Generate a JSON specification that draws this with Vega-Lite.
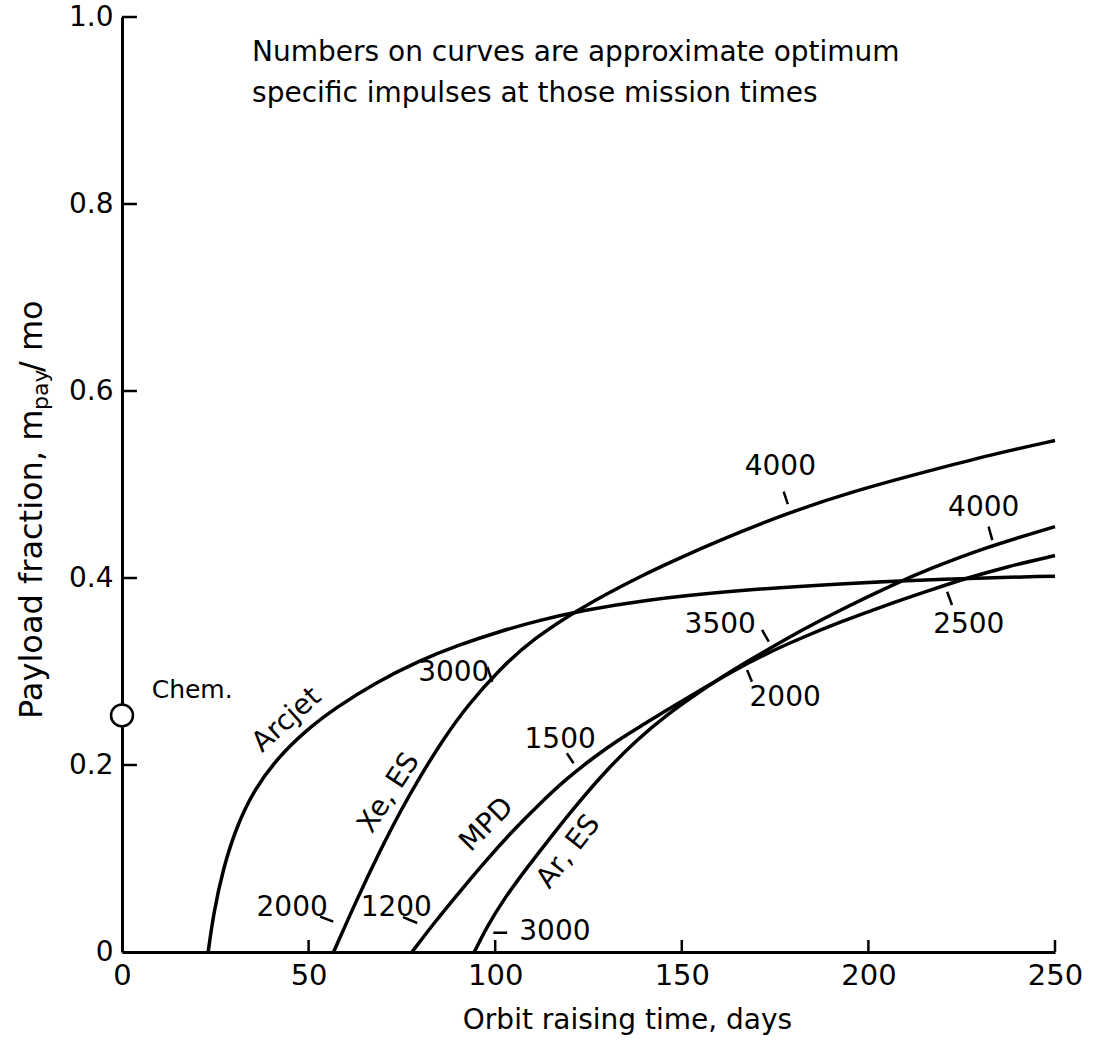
{
  "$schema": "https://vega.github.io/schema/vega-lite/v6.json",
  "width": 933,
  "height": 935,
  "autosize": {"type": "none"},
  "padding": {"left": 122, "top": 17, "right": 39, "bottom": 101},
  "background": "white",
  "config": {
    "font": "DejaVu Sans",
    "view": {"stroke": null},
    "axis": {"grid": false, "domainColor": "black", "domainWidth": 3, "ticks": false, "labelColor": "black", "labelFont": "DejaVu Sans", "titleColor": "black", "titleFont": "DejaVu Sans", "titleFontWeight": "normal", "labelFlush": false}
  },
  "datasets": {
    "curves": [
      {"series": "Arcjet", "t": 23.1, "f": 0},
      {"series": "Arcjet", "t": 24.5, "f": 0.041},
      {"series": "Arcjet", "t": 27.2, "f": 0.091},
      {"series": "Arcjet", "t": 30.7, "f": 0.134},
      {"series": "Arcjet", "t": 35.2, "f": 0.172},
      {"series": "Arcjet", "t": 41.5, "f": 0.207},
      {"series": "Arcjet", "t": 49.5, "f": 0.238},
      {"series": "Arcjet", "t": 57.6, "f": 0.262},
      {"series": "Arcjet", "t": 67.4, "f": 0.287},
      {"series": "Arcjet", "t": 79.9, "f": 0.312},
      {"series": "Arcjet", "t": 90, "f": 0.328},
      {"series": "Arcjet", "t": 101.3, "f": 0.343},
      {"series": "Arcjet", "t": 112, "f": 0.355},
      {"series": "Arcjet", "t": 123.2, "f": 0.365},
      {"series": "Arcjet", "t": 138.9, "f": 0.376},
      {"series": "Arcjet", "t": 165, "f": 0.387},
      {"series": "Arcjet", "t": 192.5, "f": 0.394},
      {"series": "Arcjet", "t": 220, "f": 0.399},
      {"series": "Arcjet", "t": 250, "f": 0.402},
      {"series": "Xe, ES", "t": 56.7, "f": 0},
      {"series": "Xe, ES", "t": 62.9, "f": 0.056},
      {"series": "Xe, ES", "t": 69.2, "f": 0.109},
      {"series": "Xe, ES", "t": 74.5, "f": 0.15},
      {"series": "Xe, ES", "t": 79.9, "f": 0.188},
      {"series": "Xe, ES", "t": 86, "f": 0.227},
      {"series": "Xe, ES", "t": 92.4, "f": 0.263},
      {"series": "Xe, ES", "t": 101.3, "f": 0.303},
      {"series": "Xe, ES", "t": 110.2, "f": 0.335},
      {"series": "Xe, ES", "t": 123.2, "f": 0.369},
      {"series": "Xe, ES", "t": 138.9, "f": 0.402},
      {"series": "Xe, ES", "t": 148.7, "f": 0.42},
      {"series": "Xe, ES", "t": 159.4, "f": 0.439},
      {"series": "Xe, ES", "t": 177.3, "f": 0.468},
      {"series": "Xe, ES", "t": 195.2, "f": 0.492},
      {"series": "Xe, ES", "t": 216.6, "f": 0.515},
      {"series": "Xe, ES", "t": 233, "f": 0.532},
      {"series": "Xe, ES", "t": 250, "f": 0.547},
      {"series": "MPD", "t": 77.7, "f": 0},
      {"series": "MPD", "t": 84, "f": 0.033},
      {"series": "MPD", "t": 91, "f": 0.067},
      {"series": "MPD", "t": 98, "f": 0.1},
      {"series": "MPD", "t": 105, "f": 0.131},
      {"series": "MPD", "t": 112, "f": 0.159},
      {"series": "MPD", "t": 119, "f": 0.185},
      {"series": "MPD", "t": 126, "f": 0.207},
      {"series": "MPD", "t": 133, "f": 0.227},
      {"series": "MPD", "t": 140, "f": 0.244},
      {"series": "MPD", "t": 146, "f": 0.259},
      {"series": "MPD", "t": 155, "f": 0.28},
      {"series": "MPD", "t": 163, "f": 0.299},
      {"series": "MPD", "t": 172, "f": 0.318},
      {"series": "MPD", "t": 182, "f": 0.336},
      {"series": "MPD", "t": 192.5, "f": 0.353},
      {"series": "MPD", "t": 204, "f": 0.37},
      {"series": "MPD", "t": 216.6, "f": 0.387},
      {"series": "MPD", "t": 225.6, "f": 0.399},
      {"series": "MPD", "t": 237, "f": 0.412},
      {"series": "MPD", "t": 250, "f": 0.424},
      {"series": "Ar, ES", "t": 94.4, "f": 0},
      {"series": "Ar, ES", "t": 97.8, "f": 0.027},
      {"series": "Ar, ES", "t": 102.2, "f": 0.056},
      {"series": "Ar, ES", "t": 108.5, "f": 0.09},
      {"series": "Ar, ES", "t": 114.7, "f": 0.122},
      {"series": "Ar, ES", "t": 121.9, "f": 0.158},
      {"series": "Ar, ES", "t": 129.9, "f": 0.195},
      {"series": "Ar, ES", "t": 138, "f": 0.227},
      {"series": "Ar, ES", "t": 146, "f": 0.254},
      {"series": "Ar, ES", "t": 155, "f": 0.279},
      {"series": "Ar, ES", "t": 163, "f": 0.3},
      {"series": "Ar, ES", "t": 172, "f": 0.321},
      {"series": "Ar, ES", "t": 182, "f": 0.344},
      {"series": "Ar, ES", "t": 192.5, "f": 0.366},
      {"series": "Ar, ES", "t": 207.7, "f": 0.395},
      {"series": "Ar, ES", "t": 216.6, "f": 0.41},
      {"series": "Ar, ES", "t": 230, "f": 0.431},
      {"series": "Ar, ES", "t": 250, "f": 0.455}
    ],
    "leaders": [
      {"t": 53.1, "f": 0.0378, "t2": 56.6, "f2": 0.0324},
      {"t": 75.3, "f": 0.0374, "t2": 79.1, "f2": 0.031},
      {"t": 99.5, "f": 0.0206, "t2": 103.2, "f2": 0.0206},
      {"t": 97.9, "f": 0.305, "t2": 99.2, "f2": 0.289},
      {"t": 119.2, "f": 0.2125, "t2": 121.0, "f2": 0.2018},
      {"t": 177.3, "f": 0.4923, "t2": 178.4, "f2": 0.4791},
      {"t": 232.2, "f": 0.4549, "t2": 233.2, "f2": 0.4406},
      {"t": 171.5, "f": 0.3444, "t2": 173.3, "f2": 0.3319},
      {"t": 167.5, "f": 0.3016, "t2": 168.8, "f2": 0.2891},
      {"t": 221.1, "f": 0.3853, "t2": 222.4, "f2": 0.3711}
    ],
    "xticks": [
      {"t": 50, "f": 0, "t2": 50, "f2": 0.0128},
      {"t": 100, "f": 0, "t2": 100, "f2": 0.0128},
      {"t": 150, "f": 0, "t2": 150, "f2": 0.0128},
      {"t": 200, "f": 0, "t2": 200, "f2": 0.0128},
      {"t": 250, "f": 0, "t2": 250, "f2": 0.0128}
    ],
    "yticks": [
      {"t": 0, "f": 0.2, "t2": 4, "f2": 0.2},
      {"t": 0, "f": 0.4, "t2": 4, "f2": 0.4},
      {"t": 0, "f": 0.6, "t2": 4, "f2": 0.6},
      {"t": 0, "f": 0.8, "t2": 4, "f2": 0.8},
      {"t": 0, "f": 1.0, "t2": 4, "f2": 1.0}
    ],
    "numbers": [
      {"t": 45.6, "f": 0.0471, "label": "2000"},
      {"t": 73.5, "f": 0.0471, "label": "1200"},
      {"t": 116.0, "f": 0.0214, "label": "3000"},
      {"t": 88.9, "f": 0.2984, "label": "3000"},
      {"t": 117.4, "f": 0.2267, "label": "1500"},
      {"t": 176.4, "f": 0.519, "label": "4000"},
      {"t": 230.9, "f": 0.4746, "label": "4000"},
      {"t": 160.3, "f": 0.3497, "label": "3500"},
      {"t": 177.7, "f": 0.2713, "label": "2000"},
      {"t": 226.9, "f": 0.3497, "label": "2500"}
    ],
    "names": [
      {"t": 44.2, "f": 0.248, "label": "Arcjet"},
      {"t": 71.6, "f": 0.17, "label": "Xe, ES"},
      {"t": 97.8, "f": 0.136, "label": "MPD"},
      {"t": 119.7, "f": 0.107, "label": "Ar, ES"}
    ],
    "note": [
      {"t": 34.85, "f": 0.9615, "label": "Numbers on curves are approximate optimum"},
      {"t": 34.85, "f": 0.9176, "label": "specific impulses at those mission times"}
    ],
    "chem": [{"t": 0, "f": 0.253}],
    "chemlabel": [{"t": 7.95, "f": 0.28, "label": "Chem."}],
    "ytitle": [
      {"t": -24.1, "f": 0.2492, "label": "Payload fraction,  m"},
      {"t": -24.1, "f": 0.6203, "label": "/ mo"}
    ],
    "ysub": [{"t": -21.7, "f": 0.5797, "label": "pay"}]
  },
  "encoding": {
    "x": {"field": "t", "type": "quantitative", "scale": {"domain": [0, 250], "nice": false},
      "axis": {"values": [0, 50, 100, 150, 200, 250], "labelFontSize": 29, "labelPadding": 9, "title": "Orbit raising time, days", "titleFontSize": 28, "titlePadding": 16, "titleX": 505}},
    "y": {"field": "f", "type": "quantitative", "scale": {"domain": [0, 1], "nice": false},
      "axis": {"values": [0, 0.2, 0.4, 0.6, 0.8, 1], "labelFontSize": 28, "labelPadding": 9, "labelExpr": "datum.value == 0 ? '0' : format(datum.value, '.1f')", "title": null}}
  },
  "layer": [
    {"data": {"name": "curves"}, "mark": {"type": "line", "color": "black", "strokeWidth": 3.5, "interpolate": "basis"},
      "encoding": {"detail": {"field": "series"}}},
    {"data": {"name": "leaders"}, "mark": {"type": "rule", "color": "black", "strokeWidth": 2.5},
      "encoding": {"x2": {"field": "t2"}, "y2": {"field": "f2"}}},
    {"data": {"name": "xticks"}, "mark": {"type": "rule", "color": "black", "strokeWidth": 2.5},
      "encoding": {"x2": {"field": "t2"}, "y2": {"field": "f2"}}},
    {"data": {"name": "yticks"}, "mark": {"type": "rule", "color": "black", "strokeWidth": 2.5},
      "encoding": {"x2": {"field": "t2"}, "y2": {"field": "f2"}}},
    {"data": {"name": "numbers"}, "mark": {"type": "text", "fontSize": 28, "color": "black", "align": "center", "baseline": "middle"},
      "encoding": {"text": {"field": "label"}}},
    {"data": {"name": "names"}, "transform": [{"filter": "datum.label == 'Arcjet'"}], "mark": {"type": "text", "fontSize": 28, "color": "black", "angle": -42, "align": "center", "baseline": "middle"},
      "encoding": {"text": {"field": "label"}}},
    {"data": {"name": "names"}, "transform": [{"filter": "datum.label == 'Xe, ES'"}], "mark": {"type": "text", "fontSize": 28, "color": "black", "angle": -57, "align": "center", "baseline": "middle"},
      "encoding": {"text": {"field": "label"}}},
    {"data": {"name": "names"}, "transform": [{"filter": "datum.label == 'MPD'"}], "mark": {"type": "text", "fontSize": 28, "color": "black", "angle": -45, "align": "center", "baseline": "middle"},
      "encoding": {"text": {"field": "label"}}},
    {"data": {"name": "names"}, "transform": [{"filter": "datum.label == 'Ar, ES'"}], "mark": {"type": "text", "fontSize": 28, "color": "black", "angle": -52, "align": "center", "baseline": "middle"},
      "encoding": {"text": {"field": "label"}}},
    {"data": {"name": "note"}, "mark": {"type": "text", "fontSize": 28, "color": "black", "align": "left", "baseline": "middle"},
      "encoding": {"text": {"field": "label"}}},
    {"data": {"name": "chem"}, "mark": {"type": "point", "shape": "circle", "size": 480, "filled": true, "fill": "white", "stroke": "black", "strokeWidth": 2.5, "opacity": 1}},
    {"data": {"name": "chemlabel"}, "mark": {"type": "text", "fontSize": 25, "color": "black", "align": "left", "baseline": "middle"},
      "encoding": {"text": {"field": "label"}}},
    {"data": {"name": "ytitle"}, "mark": {"type": "text", "fontSize": 32, "color": "black", "align": "left", "baseline": "middle", "angle": 270},
      "encoding": {"text": {"field": "label"}}},
    {"data": {"name": "ysub"}, "mark": {"type": "text", "fontSize": 22, "color": "black", "align": "left", "baseline": "middle", "angle": 270},
      "encoding": {"text": {"field": "label"}}}
  ]
}
